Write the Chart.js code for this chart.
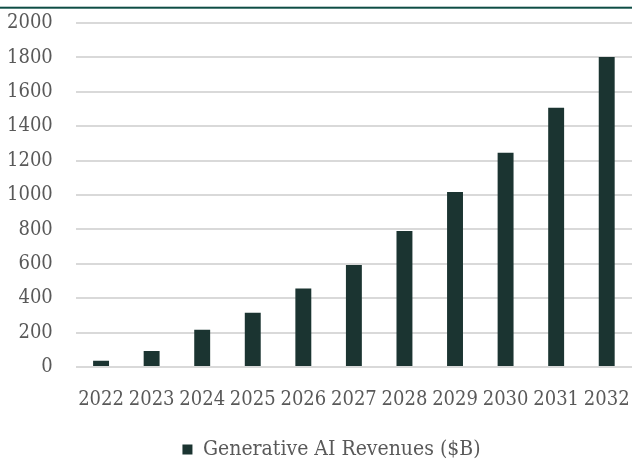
<!DOCTYPE html>
<html>
<head>
<meta charset="utf-8">
<script src="https://cdn.jsdelivr.net/npm/chart.js@4/dist/chart.umd.min.js"></script>
<style>
html,body{margin:0;padding:0;background:#fff;}
#c{display:block;}
</style>
</head>
<body>
<canvas id="c" width="632" height="462"></canvas>
<script>
const categories = ["2022","2023","2024","2025","2026","2027","2028","2029","2030","2031","2032"];
const revenues = [37, 93, 216, 315, 457, 593, 791, 1018, 1246, 1507, 1802];
const seriesName = "Generative AI Revenues ($B)";
const yTicks = [0,200,400,600,800,1000,1200,1400,1600,1800,2000];

const FAM = "'DejaVu Serif Condensed', 'DejaVu Serif', serif";
const FONT = {family: FAM, size: 20};
const LFONT = {family: FAM, size: 21};
const TXT = '#595959';

const topLine = {
  id: 'topLine',
  beforeDraw(chart) {
    const ctx = chart.ctx;
    ctx.save();
    ctx.fillStyle = '#ffffff';
    ctx.fillRect(0, 0, chart.width, chart.height);
    ctx.fillStyle = '#0e4d45';
    ctx.fillRect(0, 6.7, chart.width, 2);
    ctx.restore();
  },
  afterLayout(chart) {
    const lg = chart.legend;
    if (lg) { lg.left += 12; lg.right += 12; lg.top += 8; lg.bottom += 8; }
  }
};

new Chart(document.getElementById('c'), {
  type: 'bar',
  data: {
    labels: categories,
    datasets: [{
      label: seriesName,
      data: revenues,
      backgroundColor: '#1b3431',
      borderWidth: 0,
      barPercentage: 0.9,
      categoryPercentage: 0.35
    }]
  },
  options: {
    responsive: false,
    animation: false,
    layout: {autoPadding: false, padding: {top: 23, left: 7, right: 0, bottom: 0}},
    plugins: {
      tooltip: {enabled: false},
      legend: {
        position: 'bottom',
        labels: {
          boxWidth: 10, boxHeight: 10, color: TXT, font: LFONT, padding: 0
        }
      }
    },
    scales: {
      x: {
        grid: {display: false, drawTicks: false},
        border: {display: false},
        ticks: {color: TXT, font: FONT, padding: 21, maxRotation: 0, autoSkip: false},
        afterFit(axis) { axis.height -= 2; axis.paddingLeft = 0; axis.paddingRight = 0; }
      },
      y: {
        min: 0, max: 2000,
        afterBuildTicks(axis) { axis.ticks = yTicks.map(v => ({value: v})); },
        grid: {color: '#d9d9d9', lineWidth: 2, drawTicks: false},
        border: {display: false},
        ticks: {color: TXT, font: FONT, padding: 23, callback: v => String(v)},
        afterFit(axis) { axis.width -= 23; axis.paddingTop = 0; axis.paddingBottom = 0; }
      }
    }
  },
  plugins: [topLine]
});
</script>
</body>
</html>
